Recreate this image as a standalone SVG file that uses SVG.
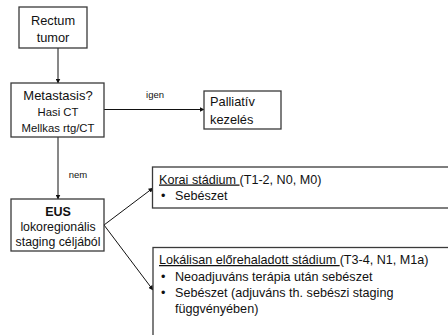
<svg xmlns="http://www.w3.org/2000/svg" width="448" height="335" viewBox="0 0 448 335">
<style>
.box{fill:#fff;stroke:#3a3a3a;stroke-width:1.3}
.t{font-family:"Liberation Sans",Arial,sans-serif;fill:#111}
.c{text-anchor:middle}
.lbl{font-family:"Liberation Sans",Arial,sans-serif;font-size:9.5px;fill:#111;text-anchor:middle}
.con{stroke:#111;stroke-width:1;fill:none;marker-end:url(#ah)}
</style>
<defs>
<marker id="ah" viewBox="0 0 10 10" refX="9" refY="5" markerWidth="5" markerHeight="5" orient="auto" markerUnits="userSpaceOnUse">
<path d="M0,0 L10,5 L0,10 z" fill="#111"/>
</marker>
</defs>
<rect width="448" height="335" fill="#fff"/>
<g id="connectors">
<line class="con" x1="58" y1="48" x2="58" y2="83"/>
<line class="con" x1="104" y1="109.5" x2="204" y2="109.5"/>
<line class="con" x1="58" y1="137" x2="58" y2="199"/>
<line class="con" x1="104" y1="225" x2="153" y2="188"/>
<line class="con" x1="104" y1="225" x2="153" y2="290"/>
<text class="lbl" x="155" y="98">igen</text>
<text class="lbl" x="78" y="178">nem</text>
</g>
<g id="rectum">
<rect class="box" x="19" y="7" width="68" height="41"/>
<text class="t c" x="53" y="24.5" font-size="12.8">Rectum</text>
<text class="t c" x="53" y="41.5" font-size="12.8">tumor</text>
</g>
<g id="metastasis">
<rect class="box" x="11" y="83" width="93" height="54"/>
<text class="t c" x="58" y="100" font-size="13">Metastasis?</text>
<text class="t c" x="58" y="116" font-size="11.3">Hasi CT</text>
<text class="t c" x="58" y="132" font-size="11.3">Mellkas rtg/CT</text>
</g>
<g id="palliativ">
<rect class="box" x="204" y="91" width="77" height="38"/>
<text class="t" x="210" y="106" font-size="12.8">Palliatív</text>
<text class="t" x="210" y="124" font-size="12.8">kezelés</text>
</g>
<g id="eus">
<rect class="box" x="11" y="199" width="93" height="52"/>
<text class="t c" x="58" y="215.5" font-size="12.5" font-weight="bold">EUS</text>
<text class="t c" x="58" y="231" font-size="12.3">lokoregionális</text>
<text class="t c" x="58" y="246" font-size="12.3">staging céljából</text>
</g>
<g id="korai">
<rect class="box" x="152.5" y="167" width="310" height="41"/>
<text class="t" x="159" y="183.5" font-size="12.6"><tspan text-decoration="underline">Korai stádium </tspan>(T1-2, N0, M0)</text>
<text class="t" x="161" y="200" font-size="12.6">•</text>
<text class="t" x="175" y="200" font-size="12.6">Sebészet</text>
</g>
<g id="lokalisan">
<rect class="box" x="153" y="247.5" width="310" height="110"/>
<text class="t" x="159" y="264" font-size="12.6"><tspan text-decoration="underline">Lokálisan előrehaladott stádium </tspan>(T3-4, N1, M1a)</text>
<text class="t" x="161" y="281" font-size="12.6">•</text>
<text class="t" x="175" y="281" font-size="12.6">Neoadjuváns terápia után sebészet</text>
<text class="t" x="161" y="297" font-size="12.6">•</text>
<text class="t" x="175" y="297" font-size="12.6">Sebészet (adjuváns th. sebészi staging</text>
<text class="t" x="175" y="313" font-size="12.6">függvényében)</text>
</g>
</svg>
